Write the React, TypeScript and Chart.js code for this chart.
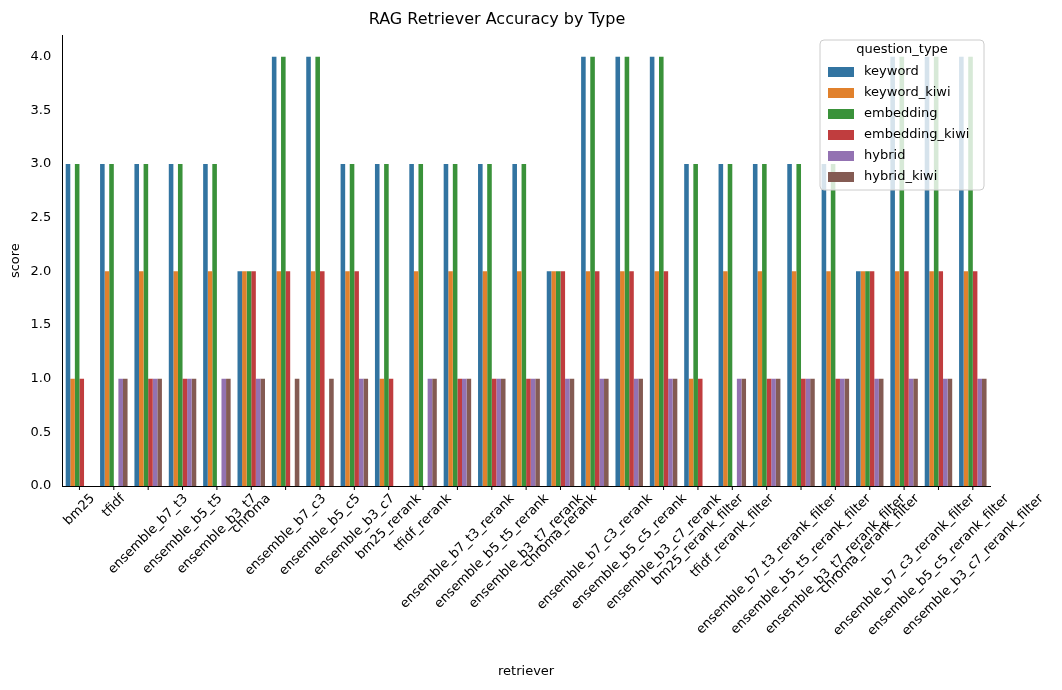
import React, { useEffect, useRef } from "react";
import { Chart, registerables } from "chart.js";
Chart.register(...registerables);

const categories = ["bm25","tfidf","ensemble_b7_t3","ensemble_b5_t5","ensemble_b3_t7","chroma","ensemble_b7_c3","ensemble_b5_c5","ensemble_b3_c7","bm25_rerank","tfidf_rerank","ensemble_b7_t3_rerank","ensemble_b5_t5_rerank","ensemble_b3_t7_rerank","chroma_rerank","ensemble_b7_c3_rerank","ensemble_b5_c5_rerank","ensemble_b3_c7_rerank","bm25_rerank_filter","tfidf_rerank_filter","ensemble_b7_t3_rerank_filter","ensemble_b5_t5_rerank_filter","ensemble_b3_t7_rerank_filter","chroma_rerank_filter","ensemble_b7_c3_rerank_filter","ensemble_b5_c5_rerank_filter","ensemble_b3_c7_rerank_filter"];
const seriesNames = ["keyword","keyword_kiwi","embedding","embedding_kiwi","hybrid","hybrid_kiwi"];
const colors = ["#3274a1","#e1812c","#3a923a","#c03d3e","#9372b2","#845b53"];
const keyword =       [3,3,3,3,3,2,4,4,3, 3,3,3,3,3,2,4,4,4, 3,3,3,3,3,2,4,4,4];
const keywordKiwi =   [1,2,2,2,2,2,2,2,2, 1,2,2,2,2,2,2,2,2, 1,2,2,2,2,2,2,2,2];
const embedding =     [3,3,3,3,3,2,4,4,3, 3,3,3,3,3,2,4,4,4, 3,3,3,3,3,2,4,4,4];
const embeddingKiwi = [1,0,1,1,0,2,2,2,2, 1,0,1,1,1,2,2,2,2, 1,0,1,1,1,2,2,2,2];
const hybrid =        [0,1,1,1,1,1,0,0,1, 0,1,1,1,1,1,1,1,1, 0,1,1,1,1,1,1,1,1];
const hybridKiwi =    [0,1,1,1,1,1,1,1,1, 0,1,1,1,1,1,1,1,1, 0,1,1,1,1,1,1,1,1];
const seriesValues = [keyword, keywordKiwi, embedding, embeddingKiwi, hybrid, hybridKiwi];

const FONT = "'DejaVu Sans', sans-serif";

const overlay = {
  id: "overlay",
  afterDraw(chart: any) {
    const ctx = chart.ctx;
    const xs = chart.scales.x;
    const area = chart.chartArea;
    ctx.save();
    ctx.fillStyle = "#000";
    ctx.font = `13px ${FONT}`;
    const h = 13;
    categories.forEach((c, i) => {
      const x = xs.getPixelForTick(i);
      const w = ctx.measureText(c).width;
      const bh = (w + h) * Math.SQRT1_2;
      ctx.save();
      ctx.translate(x, area.bottom + 6 + bh / 2);
      ctx.rotate(-Math.PI / 4);
      ctx.textAlign = "center";
      ctx.textBaseline = "middle";
      ctx.fillText(c, 0, 0);
      ctx.restore();
      ctx.beginPath();
      ctx.moveTo(x, area.bottom);
      ctx.lineTo(x, area.bottom + 4);
      ctx.strokeStyle = "#000";
      ctx.lineWidth = 1;
      ctx.stroke();
    });
    ctx.textAlign = "center";
    ctx.textBaseline = "middle";
    ctx.fillText("retriever", (area.left + area.right) / 2, 672);
    // legend
    const lx = 820, ly = 40, lw = 164, lh = 150;
    ctx.fillStyle = "rgba(255,255,255,0.8)";
    ctx.strokeStyle = "#cccccc";
    ctx.beginPath();
    ctx.roundRect(lx, ly, lw, lh, 4);
    ctx.fill();
    ctx.stroke();
    ctx.fillStyle = "#000";
    ctx.fillText("question_type", lx + lw / 2, 50);
    ctx.textAlign = "left";
    seriesNames.forEach((n, i) => {
      const y = 72 + i * 21;
      ctx.fillStyle = colors[i];
      ctx.fillRect(828, y - 5, 26, 10);
      ctx.fillStyle = "#000";
      ctx.fillText(n, 864, y);
    });
    ctx.restore();
  },
};

export default function App() {
  const ref = useRef<HTMLCanvasElement>(null);
  useEffect(() => {
    const chart = new Chart(ref.current!, {
      type: "bar",
      data: {
        labels: categories,
        datasets: seriesNames.map((n, i) => ({
          label: n,
          data: seriesValues[i],
          backgroundColor: colors[i],
          categoryPercentage: 0.8,
          barPercentage: 1,
        })),
      },
      options: {
        animation: false,
        responsive: false,
        layout: { padding: { left: 4, right: 72, top: 4, bottom: 196 } },
        plugins: {
          legend: { display: false },
          tooltip: { enabled: false },
          title: { display: true, text: "RAG Retriever Accuracy by Type", color: "#000", font: { family: FONT, size: 16, weight: "normal" }, padding: { top: 6, bottom: 6 } },
        },
        scales: {
          x: {
            grid: { display: false },
            border: { color: "#000" },
            ticks: { display: false },
          },
          y: {
            min: 0, max: 4.2,
            grid: { display: false, drawTicks: true },
            border: { color: "#000" },
            ticks: { stepSize: 0.5, color: "#000", font: { family: FONT, size: 13 }, callback: (v: any) => Number(v).toFixed(1) },
            afterBuildTicks: (s: any) => { s.ticks = s.ticks.filter((t: any) => t.value <= 4.0001); },
            title: { display: true, text: "score", color: "#000", font: { family: FONT, size: 13 } },
          },
        },
      },
      plugins: [overlay],
    });
    return () => chart.destroy();
  }, []);
  return (
    <div style={{ position: "fixed", left: 0, top: 0, width: 1062, height: 690, background: "#fff" }}>
      <canvas ref={ref} width={1062} height={690} />
    </div>
  );
}
